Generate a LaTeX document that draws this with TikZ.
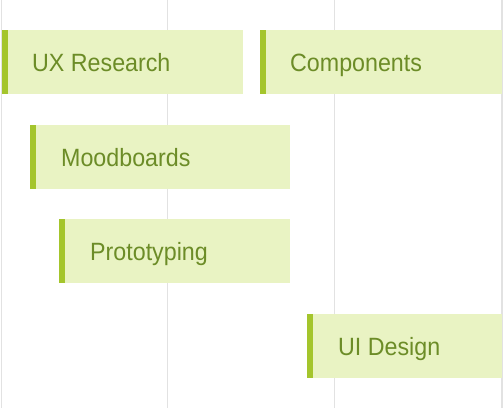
\documentclass[tikz,border=0pt]{standalone}
\usepackage{fontspec}
\setmainfont{Liberation Sans}[FakeStretch=0.93]
\usetikzlibrary{calc}
\definecolor{barfill}{HTML}{E9F3C3}
\definecolor{accent}{HTML}{A4C52C}
\definecolor{bartext}{HTML}{6C8C27}
\definecolor{gridc}{HTML}{E2E2E2}
\begin{document}
\begin{tikzpicture}[x=1pt,y=-1pt,
  gridline/.style={draw=gridc,line width=1.3pt},
  bar/.style={rectangle,fill=barfill,draw=none,inner sep=0pt,anchor=north west,
    minimum height=64pt,
    path picture={\fill[accent] (path picture bounding box.south west) rectangle ([xshift=6pt]path picture bounding box.north west);}},
  lbl/.style={anchor=base west,inner sep=0pt,text=bartext,font=\fontsize{25}{30}\selectfont}]
\useasboundingbox (0,0) rectangle (503,408);
\fill[white] (0,0) rectangle (503,408);
\coordinate (g0t) at (1.3,0);   \coordinate (g0b) at (1.3,408);
\coordinate (g1t) at (167.7,0); \coordinate (g1b) at (167.7,408);
\coordinate (g2t) at (334.7,0); \coordinate (g2b) at (334.7,408);
\coordinate (g3t) at (502,0);   \coordinate (g3b) at (502,408);
\draw[gridline] (g0t) -- (g0b);
\draw[gridline] (g1t) -- (g1b);
\draw[gridline] (g2t) -- (g2b);
\draw[gridline] (g3t) -- (g3b);
\node[bar,minimum width=241pt] (ux) at (2,30) {};
\node[bar,minimum width=241.5pt] (comp) at (260,30) {};
\node[bar,minimum width=260pt] (mood) at (30,124.5) {};
\node[bar,minimum width=231pt] (proto) at (58.5,219) {};
\node[bar,minimum width=194.5pt] (ui) at (307,313.5) {};
\node[lbl] (uxt) at ($(ux.north west)+(30,41.5)$) {UX Research};
\node[lbl] (compt) at ($(comp.north west)+(30,41.5)$) {Components};
\node[lbl] (moodt) at ($(mood.north west)+(31,41.5)$) {Moodboards};
\node[lbl] (protot) at ($(proto.north west)+(31.5,41.5)$) {Prototyping};
\node[lbl] (uit) at ($(ui.north west)+(31,41.5)$) {UI Design};
\end{tikzpicture}
\end{document}
